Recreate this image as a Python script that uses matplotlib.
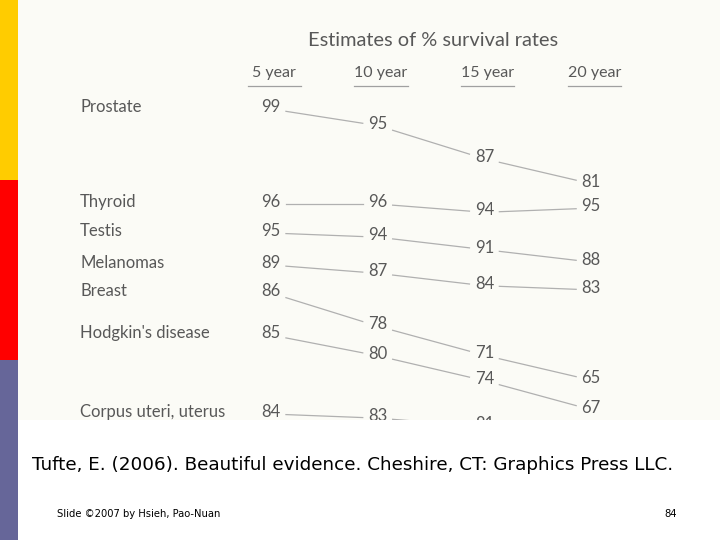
import numpy as np
import matplotlib
matplotlib.use("Agg")
import matplotlib.pyplot as plt

# survival data (Tufte slopegraph)
cancers = ["Prostate", "Thyroid", "Testis", "Melanomas", "Breast",
           "Hodgkin's disease", "Corpus uteri, uterus"]
years = ["5 year", "10 year", "15 year", "20 year"]
prostate = [99, 95, 87, 81]
thyroid = [96, 96, 94, 95]
testis = [95, 94, 91, 88]
melanomas = [89, 87, 84, 83]
breast = [86, 78, 71, 65]
hodgkins = [85, 80, 74, 67]
corpus = [84, 83, 81, 79]
rates = [prostate, thyroid, testis, melanomas, breast, hodgkins, corpus]

title = "Estimates of % survival rates"
citation = "Tufte, E. (2006). Beautiful evidence. Cheshire, CT: Graphics Press LLC."
footer = "Slide \u00a92007 by Hsieh, Pao-Nuan"
page = "84"

# layout of the table graphic (pixels of the scanned picture)
row_top = [107, 202, 231, 263, 291, 333, 412]
px_per_pt = 4.15
col0, col_step = 271, 106.7

fig = plt.figure(figsize=(7.2, 5.4), dpi=100)

# slide background and side bar
bg = fig.add_axes([0, 0, 1, 1])
bg.set_xlim(0, 720)
bg.set_ylim(540, 0)
bg.axis("off")
bg.add_patch(plt.Rectangle((0, 0), 18, 180, color="#FFCC00", lw=0))
bg.add_patch(plt.Rectangle((0, 180), 18, 180, color="#FF0000", lw=0))
bg.add_patch(plt.Rectangle((0, 360), 18, 180, color="#666699", lw=0))
bg.text(32, 465, citation, fontsize=13.2, family="DejaVu Sans", va="center", ha="left", color="black")
bg.text(57, 514, footer, fontsize=7.2, family="DejaVu Sans", va="center", ha="left", color="black")
bg.text(677, 514, page, fontsize=7.2, family="DejaVu Sans", va="center", ha="right", color="black")

# the scanned chart region
ax = fig.add_axes([18 / 720, 120 / 540, 702 / 720, 420 / 540])
ax.set_facecolor("#FBFBF6")
ax.set_xlim((18 - col0) / col_step, (720 - col0) / col_step)
ax.set_ylim(420, 0)
ax.set_xticks([])
ax.set_yticks([])
for s in ax.spines.values():
    s.set_visible(False)

txt = "#585858"
fam = ["Lato", "DejaVu Sans"]
ax.text(1.52, 40, title, fontsize=14.4, color=txt, family=fam, ha="center", va="center")
for j, yr in enumerate(years):
    ax.text(j + 0.03, 73, yr, fontsize=11.5, color=txt, family=fam, ha="center", va="center")
    ax.plot([j + 0.03 - 0.25, j + 0.03 + 0.25], [86, 86], color="#a0a0a0", lw=0.9)

gap = 0.14
for i, name in enumerate(cancers):
    ys = [row_top[i] + px_per_pt * (rates[i][0] - v) for v in rates[i]]
    ax.text((80 - col0) / col_step, row_top[i], name, fontsize=12, color=txt,
            family=fam, ha="left", va="center", clip_on=True)
    for j, v in enumerate(rates[i]):
        ax.text(j, ys[j], str(v), fontsize=12, color=txt, family=fam,
                ha="center", va="center", clip_on=True)
    for j in range(len(ys) - 1):
        x0, x1 = j + gap, j + 1 - gap
        y0 = ys[j] + (ys[j + 1] - ys[j]) * gap
        y1 = ys[j + 1] - (ys[j + 1] - ys[j]) * gap
        ax.plot([x0, x1], [y0 + 2, y1 + 2], color="#b0b0b0", lw=0.9)

fig.savefig("out.png", dpi=100)
